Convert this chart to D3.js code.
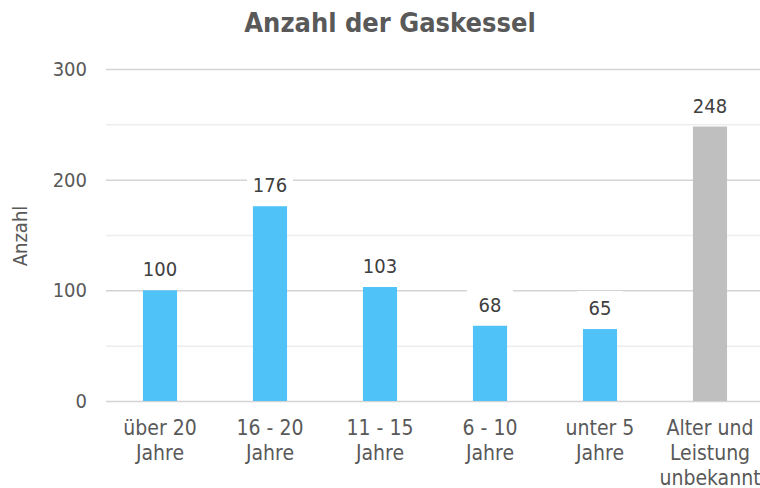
<!DOCTYPE html>
<html>
<head>
<meta charset="utf-8">
<script src="https://cdn.jsdelivr.net/npm/d3@7"></script>
<style>
  body { margin: 0; background: #fff; }
  text { font-family: "DejaVu Sans Condensed", "DejaVu Sans", sans-serif; fill: #595959; }
</style>
</head>
<body>
<div id="viz"></div>
<script>
// chart data
const categories = [["über 20", "Jahre"], ["16 - 20", "Jahre"], ["11 - 15", "Jahre"], ["6 - 10", "Jahre"], ["unter 5", "Jahre"], ["Alter und", "Leistung", "unbekannt"]];
const values = [100, 176, 103, 68, 65, 248];
const barColors = ["#4fc3f7", "#4fc3f7", "#4fc3f7", "#4fc3f7", "#4fc3f7", "#bfbfbf"];
const yTicks = [0, 100, 200, 300];
const gridTicks = [0, 50, 100, 150, 200, 250, 300];

const width = 760, height = 488;

const svg = d3.select("#viz")
  .append("svg")
  .attr("width", width)
  .attr("height", height);

// scales
const x = d3.scaleBand()
  .domain(d3.range(values.length))
  .range([105, 765])
  .paddingInner(0.69)
  .paddingOuter(0.345);

const y = d3.scaleLinear()
  .domain([0, 300])
  .range([401, 69]);

// gridlines (minor ones lighter)
svg.selectAll("line.grid")
  .data(gridTicks)
  .enter()
  .append("line")
  .attr("class", "grid")
  .attr("x1", 106)
  .attr("x2", width)
  .attr("y1", d => y(d) + 0.5)
  .attr("y2", d => y(d) + 0.5)
  .attr("stroke", d => d % 100 === 0 ? "#d4d4d4" : "#ededed")
  .attr("stroke-width", 1.5);

// y axis labels
svg.selectAll("text.ytick")
  .data(yTicks)
  .enter()
  .append("text")
  .attr("class", "ytick")
  .attr("x", 87)
  .attr("y", d => y(d))
  .attr("dy", "0.35em")
  .attr("text-anchor", "end")
  .style("font-size", "20px")
  .text(d => d);

// bars
svg.selectAll("rect.bar")
  .data(values)
  .enter()
  .append("rect")
  .attr("class", "bar")
  .attr("x", (d, i) => x(i))
  .attr("width", x.bandwidth())
  .attr("y", d => y(d))
  .attr("height", d => y(0) - y(d))
  .attr("fill", (d, i) => barColors[i]);

// value labels with white background boxes (they cut the gridlines)
const labels = svg.selectAll("g.vlabel")
  .data(values)
  .enter()
  .append("g")
  .attr("class", "vlabel")
  .attr("transform", (d, i) => `translate(${x(i) + x.bandwidth() / 2},${y(d) - 14})`);

labels.append("rect")
  .attr("x", -23)
  .attr("y", -24)
  .attr("width", 46)
  .attr("height", 30)
  .attr("fill", "#fff");

labels.append("text")
  .attr("text-anchor", "middle")
  .style("font-size", "20px")
  .style("fill", "#404040")
  .text(d => d);

// category labels
const cats = svg.selectAll("text.cat")
  .data(categories)
  .enter()
  .append("text")
  .attr("class", "cat")
  .attr("text-anchor", "middle")
  .attr("x", (d, i) => x(i) + x.bandwidth() / 2)
  .attr("y", 435)
  .style("font-size", "21px");

cats.selectAll("tspan")
  .data(d => d)
  .enter()
  .append("tspan")
  .attr("x", function() { return d3.select(this.parentNode).attr("x"); })
  .attr("dy", (d, i) => i === 0 ? 0 : 25)
  .text(d => d);

// y axis title
svg.append("text")
  .attr("transform", "translate(27,236) rotate(-90)")
  .attr("text-anchor", "middle")
  .style("font-size", "20px")
  .text("Anzahl");

// title
svg.append("text")
  .attr("x", 390)
  .attr("y", 32)
  .attr("text-anchor", "middle")
  .style("font-size", "27px")
  .style("font-weight", "bold")
  .text("Anzahl der Gaskessel");
</script>
</body>
</html>
